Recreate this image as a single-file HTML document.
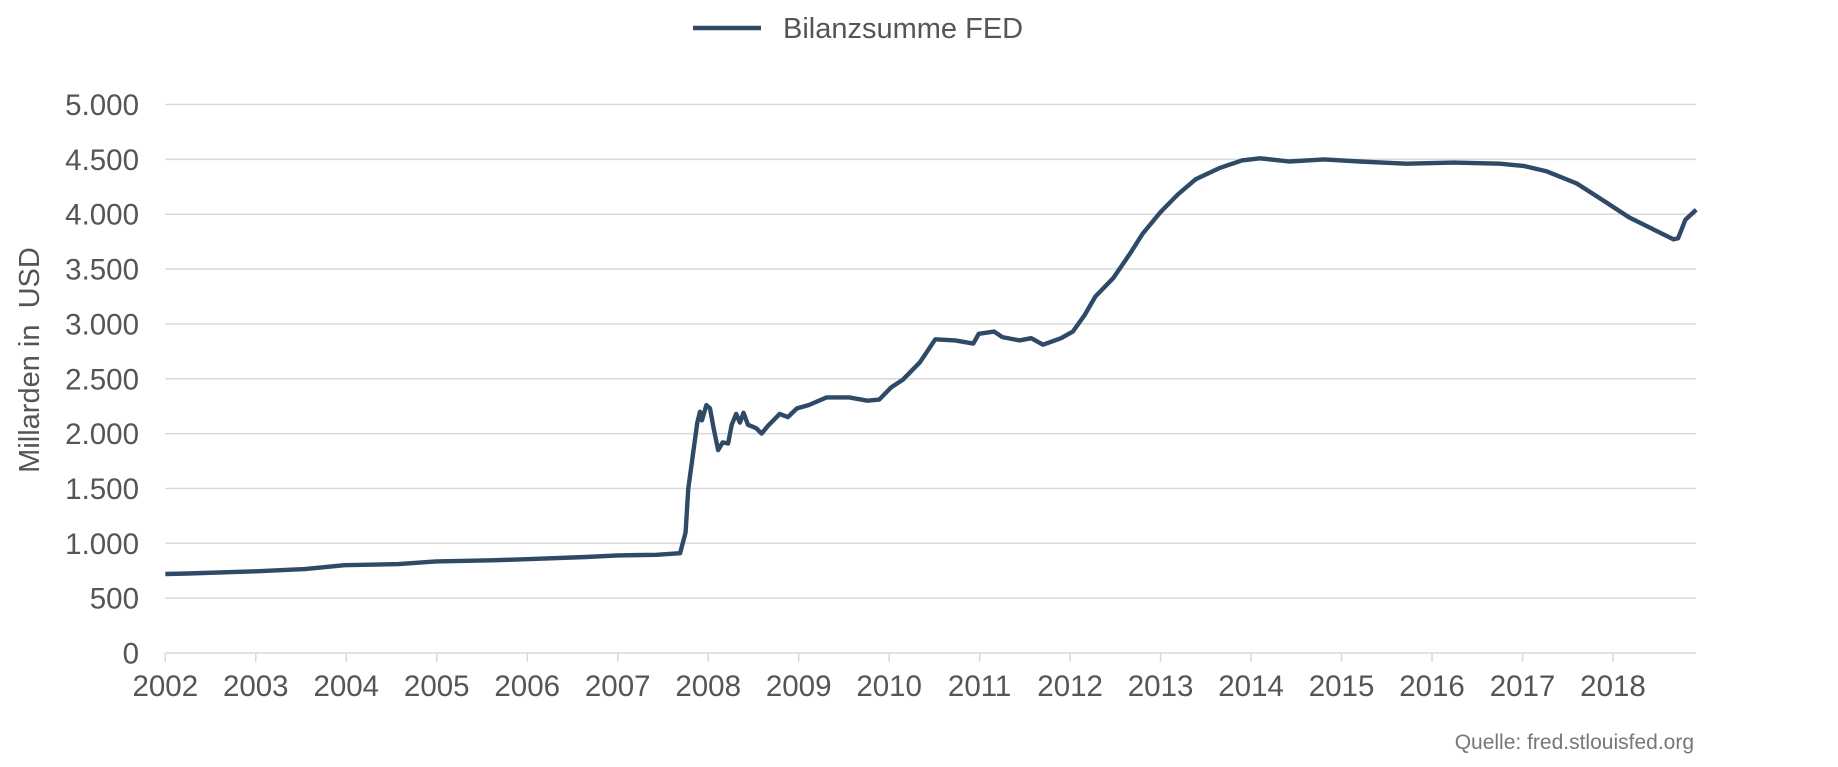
<!DOCTYPE html>
<html><head><meta charset="utf-8"><style>
html,body{margin:0;padding:0;background:#fff;}
svg{display:block;font-family:"Liberation Sans",Arial,sans-serif;}
</style></head><body>
<svg id="chart" width="1838" height="767" viewBox="0 0 1838 767">
<g id="grid"></g>
<g id="yticks"></g>
<g id="xaxis"></g>
<path id="line" fill="none" stroke="#2f4a66" stroke-width="4.4" stroke-linejoin="round"/>
<g>
<line x1="693" y1="28" x2="761" y2="28" stroke="#2f4a66" stroke-width="4.5"/>
<text x="783" y="38" font-size="29" fill="#555">Bilanzsumme FED</text>
</g>
<text transform="translate(39,360) rotate(-90)" text-anchor="middle" font-size="29" fill="#555" xml:space="preserve">Millarden in  USD</text>
<text x="1694" y="749" text-anchor="end" font-size="21" fill="#777">Quelle: fred.stlouisfed.org</text>
</svg>
<script>
const yearTicks=[2002,2003,2004,2005,2006,2007,2008,2009,2010,2011,2012,2013,2014,2015,2016,2017,2018];
const valueTicks=[0,500,1000,1500,2000,2500,3000,3500,4000,4500,5000];
const valueTickLabels=["0","500","1.000","1.500","2.000","2.500","3.000","3.500","4.000","4.500","5.000"];
const dates=[2002.00,2002.25,2003.00,2003.54,2003.98,2004.58,2004.99,2005.61,2005.99,2006.65,2007.00,2007.43,2007.69,2007.75,2007.78,2007.83,2007.88,2007.91,2007.93,2007.98,2008.02,2008.06,2008.11,2008.16,2008.22,2008.26,2008.31,2008.35,2008.39,2008.44,2008.53,2008.59,2008.66,2008.79,2008.88,2008.98,2009.11,2009.31,2009.56,2009.76,2009.89,2010.02,2010.15,2010.34,2010.51,2010.73,2010.93,2010.99,2011.16,2011.25,2011.44,2011.57,2011.70,2011.90,2012.03,2012.16,2012.28,2012.48,2012.67,2012.80,2013.00,2013.19,2013.39,2013.65,2013.90,2014.10,2014.42,2014.81,2015.20,2015.72,2016.24,2016.75,2017.01,2017.27,2017.60,2017.92,2018.18,2018.50,2018.67,2018.72,2018.80,2018.92];
const values=[720,725,745,765,800,810,835,845,855,875,890,895,910,1100,1500,1800,2100,2200,2120,2260,2230,2050,1850,1920,1910,2080,2180,2100,2190,2080,2050,2000,2070,2180,2150,2230,2260,2330,2330,2300,2310,2420,2490,2650,2860,2850,2820,2910,2930,2880,2850,2870,2810,2870,2930,3080,3250,3420,3650,3820,4020,4180,4320,4420,4490,4510,4480,4500,4480,4460,4470,4460,4440,4390,4280,4110,3970,3840,3770,3780,3950,4040];
const X0=165.3,X1=1696,Y0=653,Ytop=104.5;
const xs=t=>X0+(t-2002)*(1613-X0)/16;
const ys=v=>Y0-v*(Y0-Ytop)/5000;
const NS="http://www.w3.org/2000/svg";
const grid=document.getElementById('grid'),yt=document.getElementById('yticks'),xa=document.getElementById('xaxis');
valueTicks.forEach((v,i)=>{
 if(v>0){const l=document.createElementNS(NS,'line');
 
 
 l.setAttribute('x1',X0);l.setAttribute('x2',X1);l.setAttribute('y1',ys(v));l.setAttribute('y2',ys(v));
 l.setAttribute('stroke','#d9d9d9');l.setAttribute('stroke-width','1.5');grid.appendChild(l);}
 const t=document.createElementNS(NS,'text');
 
 
 t.setAttribute('x',139);t.setAttribute('y',ys(v)+10.5);t.setAttribute('text-anchor','end');
 t.setAttribute('font-size','29.5');t.setAttribute('fill','#555');t.textContent=valueTickLabels[i];yt.appendChild(t);
});
const ax=document.createElementNS(NS,'line');


ax.setAttribute('x1',X0);ax.setAttribute('x2',X1);ax.setAttribute('y1',Y0);ax.setAttribute('y2',Y0);
ax.setAttribute('stroke','#d9d9d9');ax.setAttribute('stroke-width','1.5');xa.appendChild(ax);
yearTicks.forEach(y=>{
 const l=document.createElementNS(NS,'line');
 
 
 l.setAttribute('x1',xs(y));l.setAttribute('x2',xs(y));l.setAttribute('y1',Y0);l.setAttribute('y2',Y0+9);
 l.setAttribute('stroke','#d9d9d9');l.setAttribute('stroke-width','1.5');xa.appendChild(l);
 const t=document.createElementNS(NS,'text');
 
 
 t.setAttribute('x',xs(y));t.setAttribute('y',696);t.setAttribute('text-anchor','middle');
 t.setAttribute('font-size','29.5');t.setAttribute('fill','#555');t.textContent=y;xa.appendChild(t);
});
document.getElementById('line').setAttribute('d',dates.map((d,i)=>(i?'L':'M')+xs(d).toFixed(1)+' '+ys(values[i]).toFixed(1)).join(' '));
</script>
</body></html>
